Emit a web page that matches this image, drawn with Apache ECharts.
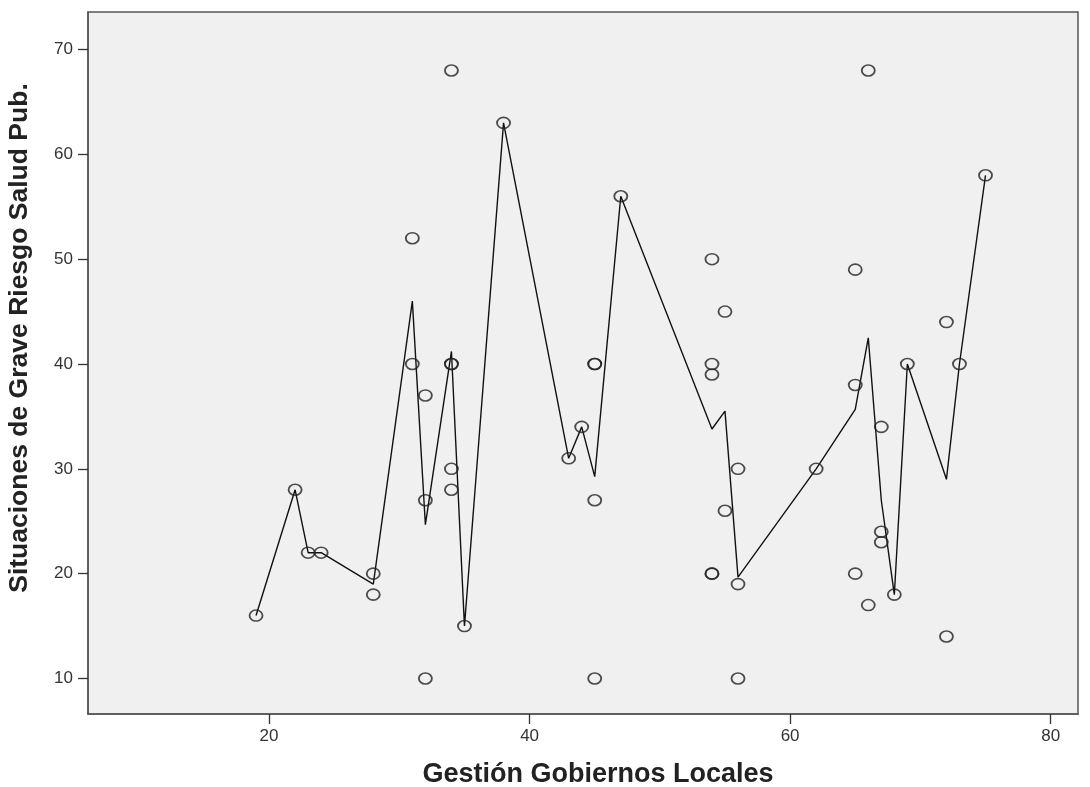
<!DOCTYPE html>
<html>
<head>
<meta charset="utf-8">
<title>Situaciones de Grave Riesgo Salud Pub. vs Gestión Gobiernos Locales</title>
<script src="https://cdn.jsdelivr.net/npm/echarts@6/dist/echarts.min.js"></script>
<style>
  html, body { margin: 0; padding: 0; background: #ffffff; }
  #chart { width: 1090px; height: 787px; }
</style>
</head>
<body>
<div id="chart"></div>
<script>
// Observations: Gestión Gobiernos Locales (x) and Situaciones de Grave Riesgo Salud Pub. (y)
const gestionValues = [19, 22, 23, 24, 28, 28, 31, 31, 32, 32, 32, 34, 34, 34, 34, 34, 35, 38, 43, 44,
                       45, 45, 45, 45, 47, 54, 54, 54, 54, 54, 55, 55, 56, 56, 56, 62, 65, 65, 65, 66,
                       66, 67, 67, 67, 68, 69, 72, 72, 73, 75];
const riesgoValues  = [16, 28, 22, 22, 20, 18, 52, 40, 37, 27, 10, 68, 40, 40, 30, 28, 15, 63, 31, 34,
                       40, 40, 27, 10, 56, 50, 40, 39, 20, 20, 45, 26, 30, 19, 10, 30, 49, 38, 20, 68,
                       17, 34, 24, 23, 18, 40, 44, 14, 40, 58];

// Axis tick labels
const xTicks = [20, 40, 60, 80];
const yTicks = [10, 20, 30, 40, 50, 60, 70];

const xTitle = 'Gestión Gobiernos Locales';
const yTitle = 'Situaciones de Grave Riesgo Salud Pub.';

// Scatter points
const points = gestionValues.map((x, i) => [x, riesgoValues[i]]);

// Fit line: mean of y at each distinct x, joined in x order
const groups = {};
gestionValues.forEach((x, i) => {
  (groups[x] = groups[x] || []).push(riesgoValues[i]);
});
const meanLine = Object.keys(groups)
  .map(Number)
  .sort((a, b) => a - b)
  .map(x => [x, groups[x].reduce((s, v) => s + v, 0) / groups[x].length]);

const labelFont = '"Liberation Sans", Arial, sans-serif';

const chart = echarts.init(document.getElementById('chart'), null, { renderer: 'canvas' });

chart.setOption({
  animation: false,
  backgroundColor: '#ffffff',
  grid: {
    left: 88, right: 12, top: 12, bottom: 73,
    containLabel: false,
    outerBoundsMode: 'none',
    show: true,
    backgroundColor: '#f0f0f0',
    borderColor: '#555555',
    borderWidth: 1.5
  },
  xAxis: {
    type: 'value',
    min: 6.1,
    max: 82.1,
    splitLine: { show: false },
    axisLine: { show: true, onZero: false, lineStyle: { color: '#555555', width: 1.5 } },
    axisTick: { show: true, customValues: xTicks, length: 10, lineStyle: { color: '#333333', width: 1.3 } },
    axisLabel: {
      customValues: xTicks, fontSize: 17, color: '#333333', margin: 14,
      fontFamily: labelFont
    },
    name: xTitle,
    nameLocation: 'middle',
    nameGap: 47,
    nameTextStyle: {
      fontSize: 27, fontWeight: 'bold', color: '#222222', fontFamily: labelFont,
      padding: [0, 0, 0, 30]
    }
  },
  yAxis: {
    type: 'value',
    min: 6.61,
    max: 73.58,
    splitLine: { show: false },
    axisLine: { show: true, onZero: false, lineStyle: { color: '#555555', width: 1.5 } },
    axisTick: { show: true, customValues: yTicks, length: 10, lineStyle: { color: '#333333', width: 1.3 } },
    axisLabel: {
      customValues: yTicks, fontSize: 17, color: '#333333', margin: 15,
      fontFamily: labelFont
    },
    name: yTitle,
    nameLocation: 'middle',
    nameGap: 55,
    nameRotate: 90,
    nameTextStyle: {
      fontSize: 26.5, fontWeight: 'bold', color: '#222222', fontFamily: labelFont,
      padding: [0, 0, 0, 50]
    }
  },
  series: [
    {
      type: 'line',
      data: meanLine,
      symbol: 'none',
      lineStyle: { color: '#111111', width: 1.4 },
      z: 2
    },
    {
      type: 'scatter',
      data: points,
      symbol: 'path://M0,5.5A6.5,5.5 0 1,0 13,5.5A6.5,5.5 0 1,0 0,5.5Z',
      symbolSize: [13, 11],
      itemStyle: { color: 'rgba(0,0,0,0)', borderColor: '#222222', borderWidth: 1.7 },
      z: 3
    }
  ]
});
</script>
</body>
</html>
